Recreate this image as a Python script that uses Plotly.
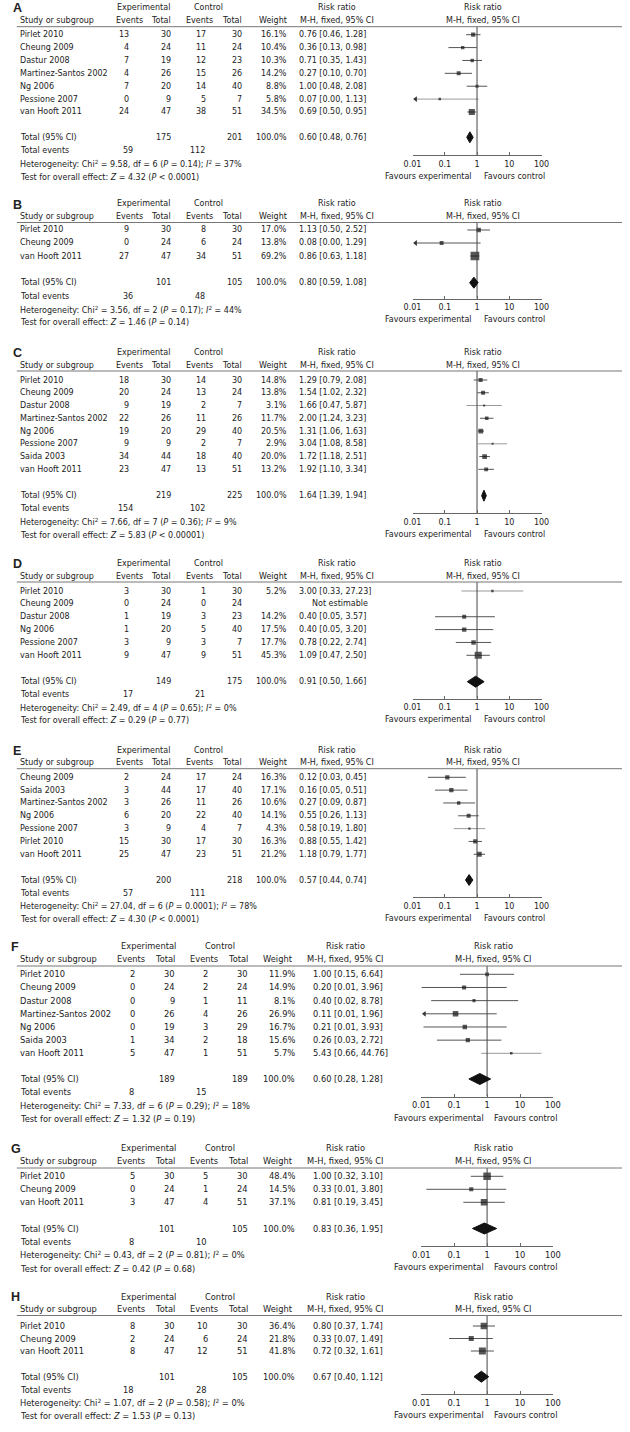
import plotly.graph_objects as go

W, H = 630, 1432
FONT = "DejaVu Sans"
TXT = "#222222"

# ------------------------------------------------------------------ DATA
# Panel A
A_study = ["Pirlet 2010", "Cheung 2009", "Dastur 2008", "Martinez-Santos 2002", "Ng 2006", "Pessione 2007", "van Hooft 2011"]
A_ev_e = [13, 4, 7, 4, 7, 0, 24]
A_tot_e = [30, 24, 19, 26, 20, 9, 47]
A_ev_c = [17, 11, 12, 15, 14, 5, 38]
A_tot_c = [30, 24, 23, 26, 40, 7, 51]
A_weight = [16.1, 10.4, 10.3, 14.2, 8.8, 5.8, 34.5]
A_rr = [0.76, 0.36, 0.71, 0.27, 1.00, 0.07, 0.69]
A_lo = [0.46, 0.13, 0.35, 0.10, 0.48, 0.0047, 0.50]
A_hi = [1.28, 0.98, 1.43, 0.70, 2.08, 1.13, 0.95]
A_tot_n = [175, 201]
A_tot_rr = [0.60, 0.48, 0.76]
A_tot_ev = [59, 112]
A_het = ["9.58", "6", "= 0.14", "37"]
A_test = ["4.32", "&lt; 0.0001"]

# Panel B
B_study = ["Pirlet 2010", "Cheung 2009", "van Hooft 2011"]
B_ev_e = [9, 0, 27]
B_tot_e = [30, 24, 47]
B_ev_c = [8, 6, 34]
B_tot_c = [30, 24, 51]
B_weight = [17.0, 13.8, 69.2]
B_rr = [1.13, 0.08, 0.86]
B_lo = [0.50, 0.0046, 0.63]
B_hi = [2.52, 1.29, 1.18]
B_tot_n = [101, 105]
B_tot_rr = [0.80, 0.59, 1.08]
B_tot_ev = [36, 48]
B_het = ["3.56", "2", "= 0.17", "44"]
B_test = ["1.46", "= 0.14"]

# Panel C
C_study = ["Pirlet 2010", "Cheung 2009", "Dastur 2008", "Martinez-Santos 2002", "Ng 2006", "Pessione 2007", "Saida 2003", "van Hooft 2011"]
C_ev_e = [18, 20, 9, 22, 19, 9, 34, 23]
C_tot_e = [30, 24, 19, 26, 20, 9, 44, 47]
C_ev_c = [14, 13, 2, 11, 29, 2, 18, 13]
C_tot_c = [30, 24, 7, 26, 40, 7, 40, 51]
C_weight = [14.8, 13.8, 3.1, 11.7, 20.5, 2.9, 20.0, 13.2]
C_rr = [1.29, 1.54, 1.66, 2.00, 1.31, 3.04, 1.72, 1.92]
C_lo = [0.79, 1.02, 0.47, 1.24, 1.06, 1.08, 1.18, 1.10]
C_hi = [2.08, 2.32, 5.87, 3.23, 1.63, 8.58, 2.51, 3.34]
C_tot_n = [219, 225]
C_tot_rr = [1.64, 1.39, 1.94]
C_tot_ev = [154, 102]
C_het = ["7.66", "7", "= 0.36", "9"]
C_test = ["5.83", "&lt; 0.00001"]

# Panel D
D_study = ["Pirlet 2010", "Cheung 2009", "Dastur 2008", "Ng 2006", "Pessione 2007", "van Hooft 2011"]
D_ev_e = [3, 0, 1, 1, 3, 9]
D_tot_e = [30, 24, 19, 20, 9, 47]
D_ev_c = [1, 0, 3, 5, 3, 9]
D_tot_c = [30, 24, 23, 40, 7, 51]
D_weight = [5.2, None, 14.2, 17.5, 17.7, 45.3]
D_rr = [3.00, None, 0.40, 0.40, 0.78, 1.09]
D_lo = [0.33, None, 0.05, 0.05, 0.22, 0.47]
D_hi = [27.23, None, 3.57, 3.20, 2.74, 2.50]
D_tot_n = [149, 175]
D_tot_rr = [0.91, 0.50, 1.66]
D_tot_ev = [17, 21]
D_het = ["2.49", "4", "= 0.65", "0"]
D_test = ["0.29", "= 0.77"]

# Panel E
E_study = ["Cheung 2009", "Saida 2003", "Martinez-Santos 2002", "Ng 2006", "Pessione 2007", "Pirlet 2010", "van Hooft 2011"]
E_ev_e = [2, 3, 3, 6, 3, 15, 25]
E_tot_e = [24, 44, 26, 20, 9, 30, 47]
E_ev_c = [17, 17, 11, 22, 4, 17, 23]
E_tot_c = [24, 40, 26, 40, 7, 30, 51]
E_weight = [16.3, 17.1, 10.6, 14.1, 4.3, 16.3, 21.2]
E_rr = [0.12, 0.16, 0.27, 0.55, 0.58, 0.88, 1.18]
E_lo = [0.03, 0.05, 0.09, 0.26, 0.19, 0.55, 0.79]
E_hi = [0.45, 0.51, 0.87, 1.13, 1.80, 1.42, 1.77]
E_tot_n = [200, 218]
E_tot_rr = [0.57, 0.44, 0.74]
E_tot_ev = [57, 111]
E_het = ["27.04", "6", "= 0.0001", "78"]
E_test = ["4.30", "&lt; 0.0001"]

# Panel F
F_study = ["Pirlet 2010", "Cheung 2009", "Dastur 2008", "Martinez-Santos 2002", "Ng 2006", "Saida 2003", "van Hooft 2011"]
F_ev_e = [2, 0, 0, 0, 0, 1, 5]
F_tot_e = [30, 24, 9, 26, 19, 34, 47]
F_ev_c = [2, 2, 1, 4, 3, 2, 1]
F_tot_c = [30, 24, 11, 26, 29, 18, 51]
F_weight = [11.9, 14.9, 8.1, 26.9, 16.7, 15.6, 5.7]
F_rr = [1.00, 0.20, 0.40, 0.11, 0.21, 0.26, 5.43]
F_lo = [0.15, 0.0101, 0.02, 0.0063, 0.0117, 0.03, 0.66]
F_hi = [6.64, 3.96, 8.78, 1.96, 3.93, 2.72, 44.76]
F_tot_n = [189, 189]
F_tot_rr = [0.60, 0.28, 1.28]
F_tot_ev = [8, 15]
F_het = ["7.33", "6", "= 0.29", "18"]
F_test = ["1.32", "= 0.19"]

# Panel G
G_study = ["Pirlet 2010", "Cheung 2009", "van Hooft 2011"]
G_ev_e = [5, 0, 3]
G_tot_e = [30, 24, 47]
G_ev_c = [5, 1, 4]
G_tot_c = [30, 24, 51]
G_weight = [48.4, 14.5, 37.1]
G_rr = [1.00, 0.33, 0.81]
G_lo = [0.32, 0.0143, 0.19]
G_hi = [3.10, 3.80, 3.45]
G_tot_n = [101, 105]
G_tot_rr = [0.83, 0.36, 1.95]
G_tot_ev = [8, 10]
G_het = ["0.43", "2", "= 0.81", "0"]
G_test = ["0.42", "= 0.68"]

# Panel H
H_study = ["Pirlet 2010", "Cheung 2009", "van Hooft 2011"]
H_ev_e = [8, 2, 8]
H_tot_e = [30, 24, 47]
H_ev_c = [10, 6, 12]
H_tot_c = [30, 24, 51]
H_weight = [36.4, 21.8, 41.8]
H_rr = [0.80, 0.33, 0.72]
H_lo = [0.37, 0.07, 0.32]
H_hi = [1.74, 1.49, 1.61]
H_tot_n = [101, 105]
H_tot_rr = [0.67, 0.40, 1.12]
H_tot_ev = [18, 28]
H_het = ["1.07", "2", "= 0.58", "0"]
H_test = ["1.53", "= 0.13"]

AXIS_TICKS = [0.01, 0.1, 1, 10, 100]
AXIS_TICKTEXT = ["0.01", "0.1", "1", "10", "100"]

# ------------------------------------------------------------------ LAYOUT (positions in px)
COLS_AE = dict(label_x=3, study_x=10, exp_hdr=138.5, ctl_hdr=205.5, ev_hdr_e=123.5, tot_hdr_e=168,
               ev_hdr_c=196, tot_hdr_c=241, w_hdr=287, ev_e=124, tot_e=168, ev_c=203, tot_c=240.5,
               w=287, rr_x=297, rr_hdr=337, ne_x=340, te_e=128, te_c=202, fr_hdr=487,
               fav_l=477, fav_r=487, ax0=414.7, ax1=547.3, fs=8, sq=1.05)
COLS_FH = dict(label_x=1, study_x=10, exp_hdr=143.7, ctl_hdr=216.7, ev_hdr_e=125, tot_hdr_e=171.7,
               ev_hdr_c=200, tot_hdr_c=246.7, w_hdr=293.3, ev_e=131, tot_e=171.5, ev_c=205.5, tot_c=246.5,
               w=295, rr_x=311.5, rr_hdr=346, ne_x=348, te_e=130, te_c=205, fr_hdr=498,
               fav_l=489, fav_r=497.7, ax0=423.7, ax1=559, fs=8.3, sq=1.08)

GEOM = {
    "A": dict(h1=7.3, h2=20.7, rule=26.7, r1=34.7, dr=12.88, tot=137.3, axis=155.3, ls=13.4),
    "B": dict(h1=204, h2=216.7, rule=222.5, r1=230, dr=13.0, tot=282.7, axis=298.7, ls=13.4),
    "C": dict(h1=352.7, h2=365.2, rule=371, r1=380, dr=12.76, tot=495.7, axis=513, ls=13.2),
    "D": dict(h1=563.3, h2=576, rule=582, r1=591, dr=12.86, tot=681.7, axis=698.7, ls=12.9),
    "E": dict(h1=750, h2=762.7, rule=768.7, r1=777.3, dr=12.83, tot=880, axis=897, ls=13.1),
    "F": dict(h1=946, h2=959.3, rule=966, r1=974.3, dr=13.17, tot=1079, axis=1096.5, ls=13.4),
    "G": dict(h1=1148, h2=1161.3, rule=1168, r1=1176.3, dr=13.0, tot=1228.5, axis=1246, ls=13.4),
    "H": dict(h1=1296.7, h2=1309.3, rule=1315.5, r1=1326, dr=12.5, tot=1376.7, axis=1394, ls=13.0),
}

PANELS = []
for L in "ABCDEFGH":
    g = globals()
    PANELS.append(dict(letter=L, study=g[L + "_study"], ev_e=g[L + "_ev_e"], tot_e=g[L + "_tot_e"],
                       ev_c=g[L + "_ev_c"], tot_c=g[L + "_tot_c"], weight=g[L + "_weight"],
                       rr=g[L + "_rr"], lo=g[L + "_lo"], hi=g[L + "_hi"], tot_n=g[L + "_tot_n"],
                       tot_rr=g[L + "_tot_rr"], tot_ev=g[L + "_tot_ev"], het=g[L + "_het"],
                       test=g[L + "_test"]))

fig = go.Figure()
annots = []
shapes = []
layout_axes = {}


def T(x, y, text, anchor="left", size=8, family=FONT):
    annots.append(dict(x=x / W, y=1 - y / H, xref="paper", yref="paper", text=text, showarrow=False,
                       xanchor=anchor, yanchor="middle", borderpad=0,
                       font=dict(family=family, size=size, color=TXT)))


def fmt_rr(r, lo, hi):
    return f"{r:.2f} [{lo:.2f}, {hi:.2f}]"


for i, p in enumerate(PANELS):
    L = p["letter"]
    c = COLS_AE if L in "ABCDE" else COLS_FH
    gm = GEOM[L]
    fs = c["fs"]
    n = "" if i == 0 else str(i + 1)
    xref, yref = "x" + n, "y" + n
    top = gm["rule"] - 2
    bot = gm["axis"]

    layout_axes["xaxis" + n] = dict(
        type="log", range=[-2, 2], domain=[c["ax0"] / W, c["ax1"] / W], anchor=yref,
        showline=True, linecolor="#666666", linewidth=1,
        ticks="inside", ticklen=3, tickcolor="#666666", tickwidth=1,
        tickmode="array", tickvals=AXIS_TICKS, ticktext=AXIS_TICKTEXT,
        tickfont=dict(family=FONT, size=fs, color=TXT), showgrid=False, zeroline=False,
        fixedrange=True, ticklabelstandoff=1)
    layout_axes["yaxis" + n] = dict(
        range=[bot, top], domain=[1 - bot / H, 1 - top / H], anchor=xref, visible=False,
        fixedrange=True, showgrid=False, zeroline=False)

    # headers
    T(c["label_x"], gm["h1"] + 0.5, "<b>%s</b>" % L, "left", 12.5, "Liberation Sans")
    T(c["exp_hdr"], gm["h1"], "Experimental", "center", fs)
    T(c["ctl_hdr"], gm["h1"], "Control", "center", fs)
    T(c["rr_hdr"], gm["h1"], "Risk ratio", "center", fs)
    T(c["fr_hdr"], gm["h1"], "Risk ratio", "center", fs)
    T(c["study_x"], gm["h2"], "Study or subgroup", "left", fs)
    T(c["ev_hdr_e"], gm["h2"], "Events", "center", fs)
    T(c["tot_hdr_e"], gm["h2"], "Total", "right", fs)
    T(c["ev_hdr_c"], gm["h2"], "Events", "center", fs)
    T(c["tot_hdr_c"], gm["h2"], "Total", "right", fs)
    T(c["w_hdr"], gm["h2"], "Weight", "right", fs)
    T(c["rr_hdr"], gm["h2"], "M-H, fixed, 95% CI", "center", fs)
    T(c["fr_hdr"], gm["h2"], "M-H, fixed, 95% CI", "center", fs)
    shapes.append(dict(type="line", xref="paper", yref="paper", x0=8 / W, x1=1,
                       y0=1 - gm["rule"] / H, y1=1 - gm["rule"] / H,
                       line=dict(color="#777777", width=1)))

    ci = {"dark": ([], []), "light": ([], [])}
    sq_x, sq_y, sq_s, ar_x, ar_y = [], [], [], [], []
    for k, name in enumerate(p["study"]):
        y = gm["r1"] + k * gm["dr"]
        T(c["study_x"], y, name, "left", fs)
        T(c["ev_e"], y, str(p["ev_e"][k]), "right", fs)
        T(c["tot_e"], y, str(p["tot_e"][k]), "right", fs)
        T(c["ev_c"], y, str(p["ev_c"][k]), "right", fs)
        T(c["tot_c"], y, str(p["tot_c"][k]), "right", fs)
        if p["rr"][k] is None:
            T(c["ne_x"], y, "Not estimable", "center", fs)
            continue
        T(c["w"], y, f"{p['weight'][k]:.1f}%", "right", fs)
        T(c["rr_x"], y, fmt_rr(p["rr"][k], p["lo"][k], p["hi"][k]), "left", fs)
        lo = p["lo"][k]
        if lo < 0.01:
            lo = 0.0125
            ar_x.append(0.0125)
            ar_y.append(y)
        key = "light" if p["weight"][k] < 7 else "dark"
        ci[key][0].extend([lo, p["hi"][k], None])
        ci[key][1].extend([y, y, None])
        sq_x.append(p["rr"][k])
        sq_y.append(y)
        sq_s.append(max(2.0, c["sq"] * p["weight"][k] ** 0.5))

    for key, col in (("light", "#9a9a9a"), ("dark", "#555555")):
        if ci[key][0]:
            fig.add_trace(go.Scatter(x=ci[key][0], y=ci[key][1], xaxis=xref, yaxis=yref, mode="lines",
                                     line=dict(color=col, width=1), hoverinfo="skip", showlegend=False))
    fig.add_trace(go.Scatter(x=sq_x, y=sq_y, xaxis=xref, yaxis=yref, mode="markers",
                             marker=dict(symbol="square", size=sq_s, color="#111111", line=dict(width=0)),
                             hoverinfo="skip", showlegend=False))
    if ar_x:
        fig.add_trace(go.Scatter(x=ar_x, y=ar_y, xaxis=xref, yaxis=yref, mode="markers",
                                 marker=dict(symbol="triangle-left", size=5, color="#333333", line=dict(width=0)),
                                 hoverinfo="skip", showlegend=False))

    # vertical line of no effect
    fig.add_trace(go.Scatter(x=[1, 1], y=[gm["rule"], gm["axis"]], xaxis=xref, yaxis=yref, mode="lines",
                             line=dict(color="#444444", width=1), hoverinfo="skip", showlegend=False))

    # totals
    yt = gm["tot"]
    r, lo, hi = p["tot_rr"]
    hh = 5.5
    fig.add_trace(go.Scatter(x=[lo, r, hi, r, lo], y=[yt, yt - hh, yt, yt + hh, yt], xaxis=xref, yaxis=yref,
                             mode="lines", fill="toself", fillcolor="#111111",
                             line=dict(color="#111111", width=1), hoverinfo="skip", showlegend=False))
    T(c["study_x"], yt, "Total (95% CI)", "left", fs)
    T(c["tot_e"], yt, str(p["tot_n"][0]), "right", fs)
    T(c["tot_c"], yt, str(p["tot_n"][1]), "right", fs)
    T(c["w"], yt, "100.0%", "right", fs)
    T(c["rr_x"], yt, fmt_rr(r, lo, hi), "left", fs)
    ls = gm["ls"]
    T(c["study_x"], yt + ls, "Total events", "left", fs)
    T(c["te_e"], yt + ls, str(p["tot_ev"][0]), "right", fs)
    T(c["te_c"], yt + ls, str(p["tot_ev"][1]), "right", fs)
    chi, df, pv, i2 = p["het"]
    T(c["study_x"], yt + 2 * ls,
      f"Heterogeneity: Chi<sup>2</sup> = {chi}, df = {df} (<i>P</i> {pv}); <i>I</i><sup>2</sup> = {i2}%",
      "left", fs)
    z, pz = p["test"]
    T(c["study_x"], yt + 3 * ls, f"Test for overall effect: <i>Z</i> = {z} (<i>P</i> {pz})", "left", fs)

    # favours
    T(c["fav_l"], gm["axis"] + 21, "Favours experimental", "right", fs)
    T(c["fav_r"], gm["axis"] + 21, "Favours control", "left", fs)

fig.update_layout(
    width=W, height=H, margin=dict(l=0, r=0, t=0, b=0),
    paper_bgcolor="white", plot_bgcolor="rgba(0,0,0,0)",
    annotations=annots, shapes=shapes, showlegend=False,
    **layout_axes,
)

fig.write_html("out.html", config={"displayModeBar": False, "staticPlot": True},
               post_script="document.body.style.margin='0px';")
